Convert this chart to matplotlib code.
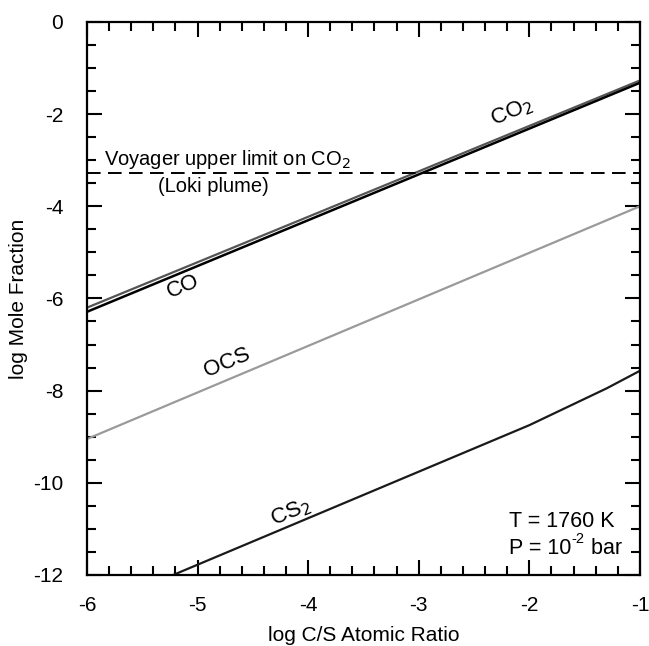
import numpy as np
from matplotlib import pyplot as plt
from matplotlib.ticker import MultipleLocator

plt.rcParams['font.family'] = ['Liberation Sans', 'DejaVu Sans']
plt.rcParams['axes.unicode_minus'] = False

# log C/S atomic ratio points
co2_x = [-6.0, -1.0]
co2_y = [-6.2, -1.27]
co_x = [-6.0, -1.0]
co_y = [-6.29, -1.32]
ocs_x = [-6.0, -1.0]
ocs_y = [-9.05, -4.0]
cs2_x = [-5.22, -2.0, -1.3, -1.0]
cs2_y = [-12.0, -8.75, -7.95, -7.57]

voyager_limit = -3.28

fig = plt.figure(figsize=(6.49, 6.46), dpi=100)
ax = fig.add_axes([0.134, 0.110, 0.852, 0.856])

ax.plot(co2_x, co2_y, color='#555555', lw=1.6)
ax.plot(co_x, co_y, color='black', lw=1.8)
ax.plot(ocs_x, ocs_y, color='#9a9a9a', lw=1.6)
ax.plot(cs2_x, cs2_y, color='#1a1a1a', lw=1.6)
ax.axhline(voyager_limit, color='black', lw=1.4, dashes=(7, 3.8))

ax.set_xlim(-6, -1)
ax.set_ylim(-12, 0)
ax.xaxis.set_major_locator(MultipleLocator(1))
ax.xaxis.set_minor_locator(MultipleLocator(0.2))
ax.yaxis.set_major_locator(MultipleLocator(2))
ax.yaxis.set_minor_locator(MultipleLocator(0.5))
ax.tick_params(which='both', direction='in', top=True, right=True,
               labelsize=15, width=1.5)
ax.tick_params(axis='x', pad=15)
ax.tick_params(axis='y', pad=17)
ax.tick_params(which='major', length=11)
ax.tick_params(which='minor', length=6.5)
for s in ax.spines.values():
    s.set_linewidth(1.6)

ax.set_xlabel('log C/S Atomic Ratio', fontsize=15, labelpad=8)
ax.set_ylabel('log Mole Fraction', fontsize=15, labelpad=4)

rot = 22.6
ax.text(-2.16, -1.95, 'CO$_2$', fontsize=16, rotation=rot, ha='center', va='center')
ax.text(-5.13, -5.75, 'CO', fontsize=16, rotation=rot, ha='center', va='center')
ax.text(-4.73, -7.4, 'OCS', fontsize=16, rotation=rot, ha='center', va='center')
ax.text(-4.16, -10.65, 'CS$_2$', fontsize=16, rotation=rot, ha='center', va='center')

ax.text(-5.85, -2.99, 'Voyager upper limit on CO$_2$', fontsize=14.5, ha='left', va='center')
ax.text(-4.86, -3.56, '(Loki plume)', fontsize=14.5, ha='center', va='center')

ax.text(-2.18, -10.85, 'T = 1760 K', fontsize=15.5, ha='left', va='center')
p = ax.text(-2.18, -11.43, 'P = 10', fontsize=15.5, ha='left', va='center')
sup = ax.annotate('-2', xy=(1.0, 0.62), xycoords=p, fontsize=10.5,
                  ha='left', va='bottom')
ax.annotate(' bar', xy=(1.0, 0.0), xycoords=(sup, p), fontsize=15.5,
            ha='left', va='bottom')

fig.savefig('out.png', dpi=100)
